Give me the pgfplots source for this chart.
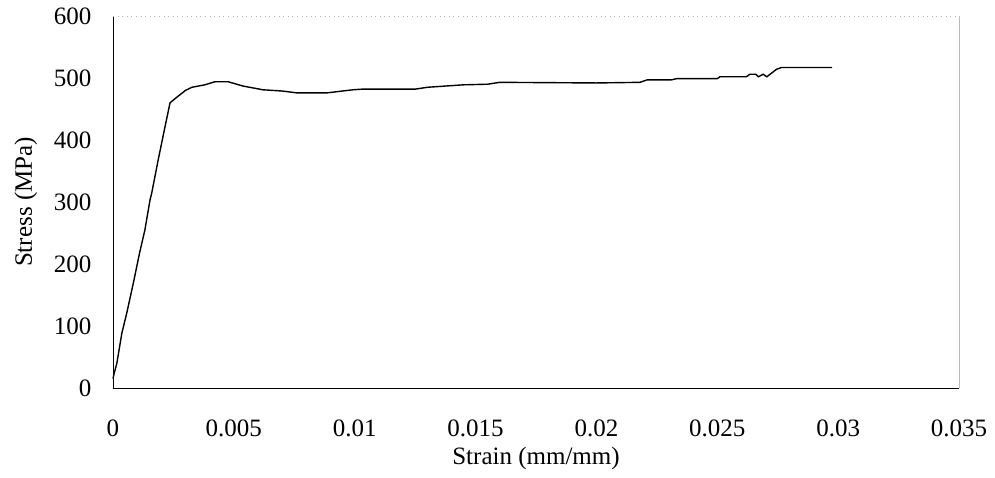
\documentclass[border=0pt]{standalone}
\usepackage{pgfplots}
\pgfplotsset{compat=1.18}
\usepackage{fontspec}
\setmainfont{Liberation Serif}

\begin{document}
\begin{tikzpicture}
\useasboundingbox (-113pt,-90pt) rectangle (882pt,388pt);
\begin{axis}[scale only axis, width=846pt, height=372pt,
  at={(0,0)}, anchor=south west,
  xmin=0, xmax=0.035, ymin=0, ymax=600,
  xtick={0,0.005,...,0.035}, ytick={0,100,...,600},
  xticklabels={0,0.005,0.01,0.015,0.02,0.025,0.03,0.035},
  scaled x ticks=false,
  axis x line*=bottom, axis y line*=left,
  axis line style={black, line width=0.8pt, -},
  major tick length=0pt,
  /pgf/number format/assume math mode=true,
  tick label style={font=\fontsize{25}{30}\selectfont},
  label style={font=\fontsize{25}{30}\selectfont},
  xticklabel style={yshift=-28pt},
  yticklabel style={xshift=-18pt},
  xlabel={Strain (mm/mm)}, ylabel={Stress (MPa)},
  xlabel style={at={(rel axis cs:0.5,-0.19)}, anchor=center},
  ylabel style={at={(rel axis cs:-0.103,0.5)}, anchor=center},
  clip=false]
\draw[gray!55, line width=0.6pt] (rel axis cs:1,0) -- (rel axis cs:1,1);
\draw[gray!60, line width=0.6pt, loosely dotted] (rel axis cs:0,1) -- (rel axis cs:1,1);
\addplot[black, line width=1.4pt, no marks] coordinates {
(0,15) (0.00005,24) (0.00016,40) (0.00037,89) (0.00057,121) (0.00084,169)
(0.0011,218) (0.00132,255) (0.00153,303) (0.0016,314) (0.00187,368)
(0.00215,421) (0.00236,460) (0.00264,469) (0.0030,480) (0.00326,485)
(0.0038,489) (0.00422,494) (0.00476,494) (0.00538,487) (0.0062,481)
(0.0070,479) (0.0076,476) (0.00885,476) (0.00993,481) (0.0103,482)
(0.0125,482) (0.0130,485) (0.0145,489) (0.0155,490) (0.0160,493)
(0.0200,492) (0.0218,493) (0.0221,497) (0.0231,497) (0.02333,499)
(0.0250,499) (0.02511,502) (0.0262,502) (0.02635,506) (0.0266,506)
(0.0267,502) (0.0269,506) (0.02705,502) (0.02745,514) (0.02766,517)
(0.02975,517)};
\end{axis}
\end{tikzpicture}
\end{document}
